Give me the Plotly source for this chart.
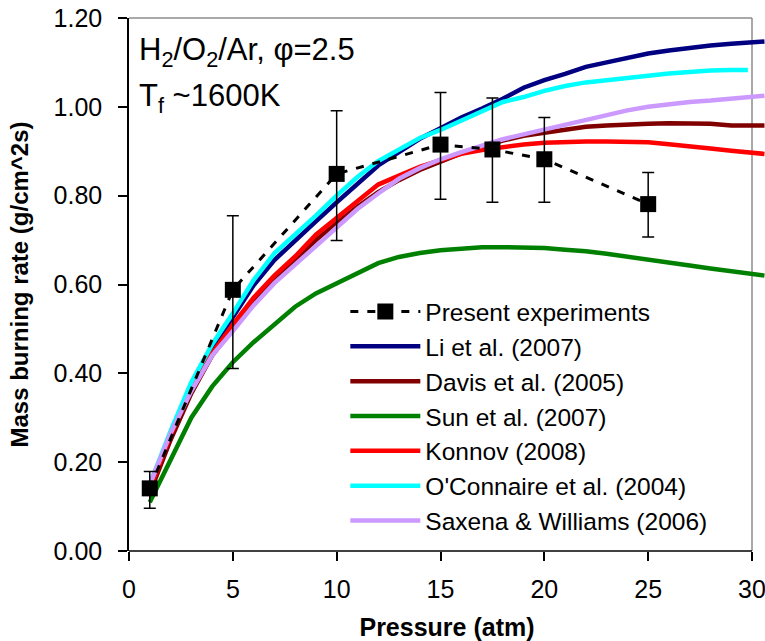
import plotly.graph_objects as go

# ---------------- data ----------------
exp_p = [1, 5, 10, 15, 17.5, 20, 25]
exp_v = [0.141, 0.588, 0.849, 0.915, 0.904, 0.882, 0.781]
exp_err_plus = [0.038, 0.167, 0.142, 0.117, 0.116, 0.094, 0.071]
exp_err_minus = [0.045, 0.177, 0.150, 0.123, 0.119, 0.097, 0.074]

p_model = [1, 2, 3, 4, 5, 6, 7, 8, 9, 10, 11, 12, 13, 14, 15, 16, 17, 18, 19, 20,
           21, 22, 23, 24, 25, 26, 27, 28, 29, 30, 30.6]

li_2007 = [0.145, 0.260, 0.370, 0.455, 0.525, 0.598, 0.655, 0.700, 0.742, 0.785,
           0.828, 0.868, 0.898, 0.928, 0.952, 0.976, 0.996, 1.018, 1.043, 1.060,
           1.074, 1.090, 1.100, 1.110, 1.120, 1.127, 1.133, 1.138, 1.142, 1.145, 1.147]
davis_2005 = [0.130, 0.250, 0.355, 0.440, 0.500, 0.560, 0.610, 0.655, 0.700, 0.738,
              0.775, 0.808, 0.835, 0.858, 0.876, 0.895, 0.910, 0.924, 0.935, 0.942,
              0.948, 0.955, 0.958, 0.961, 0.962, 0.963, 0.963, 0.962, 0.958, 0.958, 0.958]
sun_2007 = [0.110, 0.205, 0.300, 0.370, 0.425, 0.470, 0.510, 0.550, 0.580, 0.603,
            0.627, 0.648, 0.662, 0.671, 0.677, 0.681, 0.684, 0.684, 0.683, 0.682,
            0.678, 0.675, 0.669, 0.663, 0.656, 0.649, 0.643, 0.636, 0.630, 0.623, 0.620]
konnov_2008 = [0.140, 0.260, 0.370, 0.445, 0.510, 0.570, 0.620, 0.663, 0.712, 0.750,
               0.790, 0.825, 0.845, 0.865, 0.880, 0.894, 0.903, 0.910, 0.915, 0.919,
               0.921, 0.922, 0.922, 0.922, 0.920, 0.916, 0.912, 0.906, 0.901, 0.897, 0.894]
p_oconnaire = [1, 2, 3, 4, 5, 6, 7, 8, 9, 10, 11, 12, 13, 14, 15, 16, 17, 18, 19, 20,
               21, 22, 23, 24, 25, 26, 27, 28, 29, 29.8]
oconnaire_2004 = [0.150, 0.270, 0.380, 0.465, 0.535, 0.610, 0.670, 0.712, 0.755, 0.800,
                  0.842, 0.878, 0.905, 0.930, 0.948, 0.969, 0.988, 1.011, 1.022, 1.036,
                  1.047, 1.055, 1.060, 1.066, 1.070, 1.075, 1.079, 1.082, 1.083, 1.083]
saxena_2006 = [0.150, 0.265, 0.360, 0.440, 0.495, 0.553, 0.603, 0.645, 0.688, 0.728,
               0.770, 0.805, 0.838, 0.862, 0.882, 0.898, 0.912, 0.927, 0.938, 0.949,
               0.961, 0.972, 0.982, 0.992, 1.000, 1.006, 1.011, 1.014, 1.018, 1.023, 1.025]

x_ticks = [0, 5, 10, 15, 20, 25, 30]
y_ticks = [0, 0.2, 0.4, 0.6, 0.8, 1.0, 1.2]

FONT = "Liberation Sans, Arial, sans-serif"

fig = go.Figure()

models = [
    ("Li et al. (2007)", p_model, li_2007, "#000080", 2),
    ("Davis et al. (2005)", p_model, davis_2005, "#800000", 3),
    ("Sun et al. (2007)", p_model, sun_2007, "#008000", 4),
    ("Konnov (2008)", p_model, konnov_2008, "#FF0000", 5),
    ("O'Connaire et al. (2004)", p_oconnaire, oconnaire_2004, "#00FFFF", 6),
    ("Saxena & Williams (2006)", p_model, saxena_2006, "#CC99FF", 7),
]
for name, xs, ys, col, rank in models:
    fig.add_trace(go.Scatter(x=xs, y=ys, mode="lines", name=name,
                             line=dict(color=col, width=4.5),
                             legendrank=rank))

fig.add_trace(go.Scatter(
    x=exp_p, y=exp_v, mode="lines+markers", name="Present experiments",
    line=dict(color="black", width=3, dash="8px,9px"),
    marker=dict(symbol="square", size=16, color="black"),
    error_y=dict(type="data", array=exp_err_plus, arrayminus=exp_err_minus,
                 color="black", thickness=1.5, width=6),
    legendrank=1))

# geometry (pixels)
W, H = 765, 641
L, R, T, B = 128.5, 0, 18, 90
x30_px = 752
xmax = 30 * (W - L) / (x30_px - L)
x30_paper = 30 / xmax
PH = H - T - B
PW = W - L

fig.update_layout(
    width=W, height=H,
    margin=dict(l=L, r=R, t=T, b=B, autoexpand=False),
    paper_bgcolor="white", plot_bgcolor="white",
    font=dict(family=FONT, size=24, color="black"),
    showlegend=True,
    legend=dict(x=(345 - L) / PW, y=(551 - 289) / PH,
                xanchor="left", yanchor="top",
                bgcolor="rgba(0,0,0,0)", borderwidth=0,
                font=dict(family=FONT, size=24.5, color="black"),
                itemwidth=70, traceorder="normal"),
    xaxis=dict(range=[0, xmax], tickvals=x_ticks, ticktext=[str(v) for v in x_ticks],
               showgrid=False, zeroline=False, showline=False,
               ticks="outside", ticklen=9, tickwidth=1.5, tickcolor="black",
               ticklabelstandoff=7, ticklabeloverflow="allow",
               tickfont=dict(family=FONT, size=25),
               title=dict(text="<b>Pressure (atm)</b>", font=dict(family=FONT, size=25),
                          standoff=18)),
    yaxis=dict(range=[0, 1.2], tickvals=y_ticks, tickformat=".2f",
               showgrid=False, zeroline=False, showline=True,
               linecolor="black", linewidth=1.5,
               ticks="outside", ticklen=9, tickwidth=1.5, tickcolor="black",
               ticklabelstandoff=11,
               tickfont=dict(family=FONT, size=25),
               title=dict(text="<b>Mass burning rate (g/cm^2s)</b>",
                          font=dict(family=FONT, size=24), standoff=18)),
    shapes=[
        dict(type="line", xref="paper", yref="paper", x0=0, x1=x30_paper, y0=0, y1=0,
             line=dict(color="black", width=1.5), layer="above"),
        dict(type="line", xref="paper", yref="paper", x0=0, x1=x30_paper, y0=1, y1=1,
             line=dict(color="#8c8c8c", width=1.5), layer="below"),
        dict(type="line", xref="paper", yref="paper", x0=x30_paper, x1=x30_paper, y0=0, y1=1,
             line=dict(color="#8c8c8c", width=1.5), layer="below"),
    ],
    annotations=[
        dict(text="H<sub>2</sub>/O<sub>2</sub>/Ar, φ=2.5", xref="paper", yref="paper",
             x=(137 - L) / PW, y=(551 - 30) / PH, xanchor="left", yanchor="top",
             showarrow=False, font=dict(family=FONT, size=31, color="black"), align="left"),
        dict(text="T<sub>f</sub> ~1600K", xref="paper", yref="paper",
             x=(137 - L) / PW, y=(551 - 76) / PH, xanchor="left", yanchor="top",
             showarrow=False, font=dict(family=FONT, size=31, color="black"), align="left"),
    ],
)

fig.write_html("out.html", config={"displayModeBar": False},
               post_script="document.body.style.margin='0';document.body.style.overflow='hidden';")
